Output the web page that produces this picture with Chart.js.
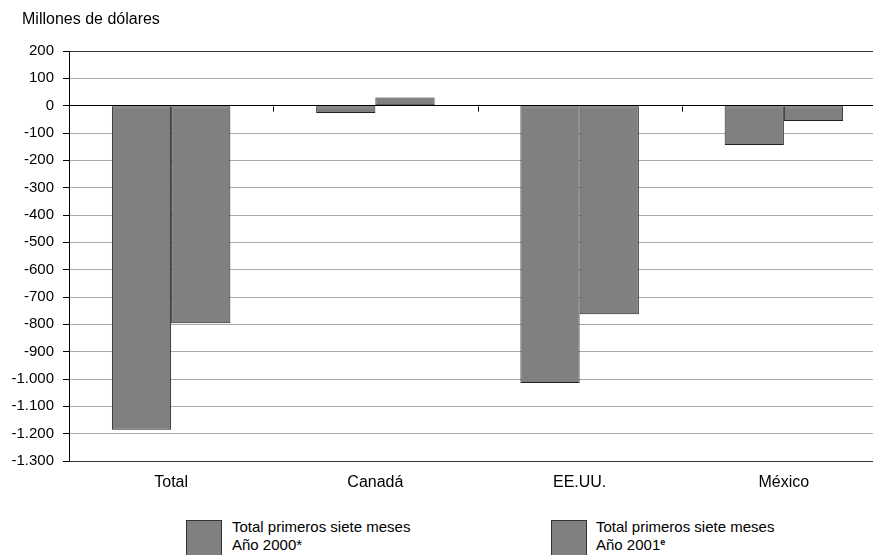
<!DOCTYPE html>
<html>
<head>
<meta charset="utf-8">
<script src="https://cdn.jsdelivr.net/npm/chart.js@4/dist/chart.umd.min.js"></script>
<style>
  html, body { margin: 0; padding: 0; background: #fff; overflow: hidden; }
  body { width: 873px; height: 555px; position: relative; font-family: "Liberation Sans", Arial, sans-serif; }
  #wrap { position: absolute; left: 0; top: 0; width: 873px; height: 500px; overflow: hidden; }
  #title { position: absolute; left: 22px; top: 10px; font-size: 16px; line-height: 18px; color: #000; white-space: nowrap; }
  .leg { position: absolute; top: 518px; font-size: 15px; line-height: 18px; color: #000; }
  .leg .box { position: absolute; left: 0; top: 2px; width: 36px; height: 40px; background: #808080; border: 1px solid #333; box-sizing: border-box; }
  .leg .txt { position: absolute; white-space: nowrap; }
  sup { font-size: 9px; font-weight: bold; vertical-align: 5px; line-height: 0; }
</style>
</head>
<body>
<div id="wrap"><canvas id="c" width="900" height="500"></canvas></div>
<div id="title"></div>
<div id="legend"></div>
<script>
const categories = ["Total", "Canadá", "EE.UU.", "México"];
const series2000 = [-1186, -27, -1015, -144];
const series2001 = [-796, 30, -763, -56];
const seriesLabels = [
  ["Total primeros siete meses", "Año 2000*"],
  ["Total primeros siete meses", "Año 2001", "e"]
];
const yMin = -1300, yMax = 200, yStep = 100;
const titleText = "Millones de dólares";

const FONT = '"Liberation Sans", Arial, sans-serif';
document.getElementById('title').textContent = titleText;

function fmt(v) {
  const s = Math.abs(v).toString().replace(/\B(?=(\d{3})+(?!\d))/g, ".");
  return (v < 0 ? "-" : "") + s;
}

const categoryTicks = {
  id: 'categoryTicks',
  beforeDatasetsDraw(chart) {
    const x = chart.scales.x, y = chart.scales.y;
    const ctx = chart.ctx;
    const y0 = Math.round(y.getPixelForValue(0)) + 0.5;
    ctx.save();
    ctx.strokeStyle = '#000';
    ctx.lineWidth = 1;
    for (let i = 1; i < categories.length; i++) {
      const px = Math.round((x.getPixelForTick(i - 1) + x.getPixelForTick(i)) / 2) + 0.5;
      ctx.beginPath();
      ctx.moveTo(px, y0);
      ctx.lineTo(px, y0 + 5);
      ctx.stroke();
    }
    ctx.restore();
  }
};

const barStyle = { backgroundColor: '#808080', borderColor: '#222', borderWidth: 1, borderSkipped: false, barPercentage: 1, categoryPercentage: 0.58 };

const chart = new Chart(document.getElementById('c'), {
  type: 'bar',
  data: {
    labels: categories,
    datasets: [
      Object.assign({ label: seriesLabels[0].join(' '), data: series2000 }, barStyle),
      Object.assign({ label: seriesLabels[1].join(' '), data: series2001 }, barStyle)
    ]
  },
  options: {
    responsive: false,
    animation: false,
    layout: { padding: { left: 0, right: 14, top: 51, bottom: 0 } },
    plugins: {
      legend: { display: false },
      tooltip: { enabled: false },
      title: { display: false }
    },
    scales: {
      y: {
        min: yMin, max: yMax,
        afterFit(s) { s.width = 69; },
        ticks: { stepSize: yStep, color: '#000', padding: 9, font: { family: FONT, size: 15 }, callback: v => fmt(v) },
        grid: {
          color: c => (c.tick && c.tick.value === 0) ? '#000' : (c.tick && c.tick.value === yMax ? '#333' : '#aaaaaa'),
          tickColor: '#000', tickLength: 6, drawTicks: true
        },
        border: { color: '#000', width: 1 }
      },
      x: {
        afterFit(s) { s.height = 39; },
        ticks: { color: '#000', padding: 12, font: { family: FONT, size: 16 } },
        grid: { display: false, drawTicks: false },
        border: { color: '#333', width: 1 }
      }
    }
  },
  plugins: [categoryTicks]
});

// HTML legend built from the dataset labels
const legendPos = [{ box: 186, text: 232 }, { box: 551, text: 596 }];
const legend = document.getElementById('legend');
seriesLabels.forEach((lab, i) => {
  const d = document.createElement('div');
  d.className = 'leg';
  d.style.left = legendPos[i].box + 'px';
  const sup = lab[2] ? '<sup>' + lab[2] + '</sup>' : '';
  d.innerHTML = '<div class="box"></div><div class="txt" style="left:' + (legendPos[i].text - legendPos[i].box) + 'px">' + lab[0] + '<br>' + lab[1] + sup + '</div>';
  legend.appendChild(d);
});
</script>
</body>
</html>
